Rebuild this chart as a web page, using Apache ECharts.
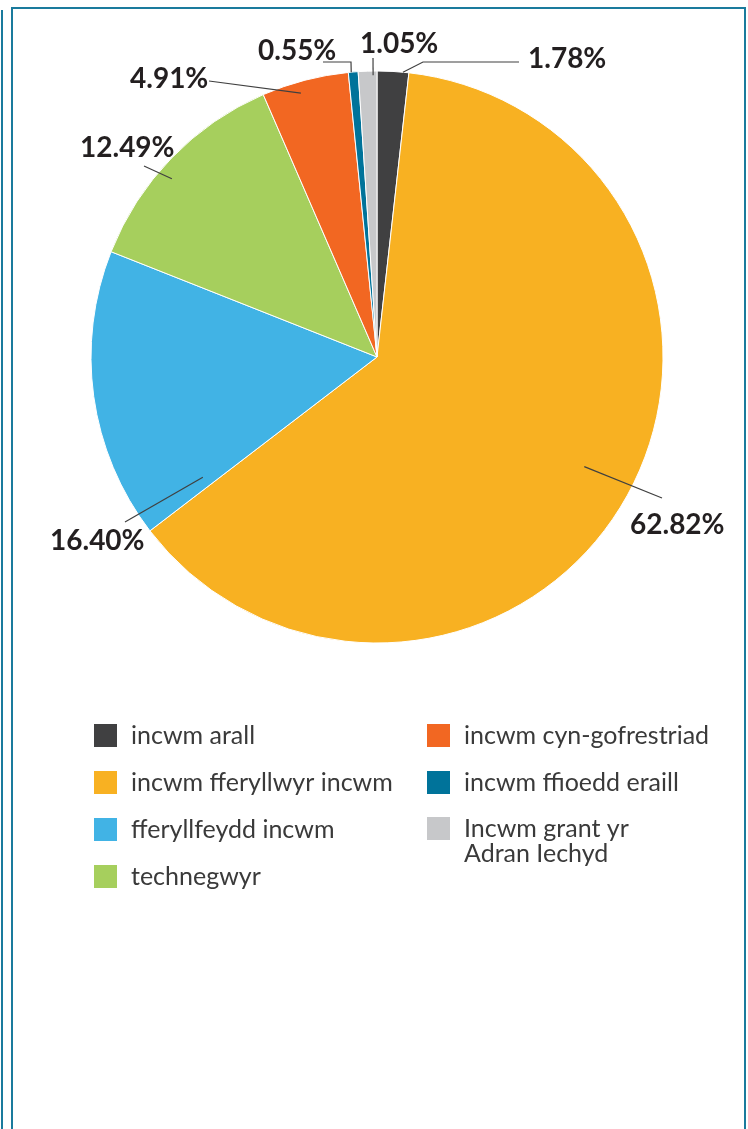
<!DOCTYPE html>
<html><head><meta charset="utf-8">
<script src="https://cdn.jsdelivr.net/npm/echarts@6/dist/echarts.min.js"></script>
<style>html,body{margin:0;padding:0;background:#fff}#c{width:748px;height:1129px}</style>
</head><body><div id="c"></div>
<script>
// ---- data ----
const categories = ['incwm arall', 'incwm fferyllwyr incwm', 'fferyllfeydd incwm', 'technegwyr',
  'incwm cyn-gofrestriad', 'incwm ffioedd eraill', 'Incwm grant yr Adran Iechyd'];
const shares = [1.78, 62.82, 16.40, 12.49, 4.91, 0.55, 1.05];
const legendLabels = ['incwm arall', 'incwm fferyllwyr incwm', 'fferyllfeydd incwm', 'technegwyr',
  'incwm cyn-gofrestriad', 'incwm ffioedd eraill', '\nIncwm grant yr\nAdran Iechyd'];

// ---- style ----
const colors = ['#404041', '#F8B122', '#41B3E5', '#A6CF5D', '#F26722', '#00739A', '#C7C8CA'];
const FRAME = '#1a7b9d';
const CX = 377, CY = 357, R = 286;
// label placement (text anchor, leader end, optional bend, start shift along slice)
const labelPlacement = [
  { x: 528, y: 59,  end: [519, 62], bend: [423, 62], dAng: 2.0,   rf: 1.0 },
  { x: 630, y: 525, end: [662, 498], dAng: -1.6,  rf: 0.82 },
  { x: 50,  y: 541, end: [125, 522], dAng: -26.7, rf: 0.74 },
  { x: 80,  y: 148, end: [144, 166], dAng: -3.1,  rf: 0.95 },
  { x: 130, y: 79,  end: [209, 81],  dAng: -1.5,  rf: 0.96 },
  { x: 258, y: 51,  end: [323, 62], bend: [351, 62], dAng: -0.4, rf: 1.0 },
  { x: 360, y: 44,  end: [373, 58],  dAng: 1.1,   rf: 0.985 }
];

const total = shares.reduce((a, b) => a + b, 0);
const midAngles = [];
let cum = 0;
shares.forEach(v => { midAngles.push((cum + v / 2) / total * 360); cum += v; });

// leader lines derived from slice angles
const leaderLines = labelPlacement.map((lp, i) => {
  const th = (midAngles[i] + lp.dAng) * Math.PI / 180;
  const r = R * lp.rf;
  const start = [CX + r * Math.sin(th), CY - r * Math.cos(th)];
  const pts = lp.bend ? [start, lp.bend, lp.end] : [start, lp.end];
  return { type: 'polyline', z: 100, shape: { points: pts }, style: { stroke: '#404040', lineWidth: 1.2, fill: null } };
});

const chart = echarts.init(document.getElementById('c'), null, { renderer: 'canvas' });
const nameToLabel = {};
categories.forEach((c, i) => nameToLabel[c] = legendLabels[i]);

const legendBase = {
  orient: 'vertical', itemWidth: 25, itemHeight: 25, itemGap: 20, icon: 'rect', selectedMode: false,
  padding: 0,
  formatter: n => nameToLabel[n],
  textStyle: { fontFamily: 'Lato', fontSize: 25, color: '#3a3a3a', lineHeight: 25, padding: [0, 0, 0, 8] }
};

chart.setOption({
  animation: false,
  backgroundColor: '#fff',
  color: colors,
  graphic: [
    { type: 'line', shape: { x1: 2, y1: 10, x2: 2, y2: 1129 }, style: { stroke: FRAME, lineWidth: 2 } },
    { type: 'polyline', shape: { points: [[12, 1129], [12, 8], [745, 8], [745, 1129]] },
      style: { stroke: FRAME, lineWidth: 2, fill: null } }
  ].concat(leaderLines),
  legend: [
    Object.assign({}, legendBase, { left: 92, top: 722, data: categories.slice(0, 4) }),
    Object.assign({}, legendBase, { left: 425, top: 722, data: categories.slice(4, 6) }),
    Object.assign({}, legendBase, { left: 425, top: 791, data: categories.slice(6) })
  ],
  series: [{
    type: 'pie',
    center: [CX, CY],
    radius: R,
    startAngle: 90,
    clockwise: true,
    silent: true,
    itemStyle: { borderColor: '#fff', borderWidth: 1 },
    data: categories.map((c, i) => ({ name: c, value: shares[i] })),
    label: {
      show: true, position: 'outside', overflow: 'none',
      formatter: p => shares[p.dataIndex].toFixed(2) + '%',
      fontFamily: 'Lato', fontWeight: 'bold', fontSize: 28, color: '#231f20'
    },
    labelLine: { show: false },
    labelLayout: function (params) {
      const lp = labelPlacement[params.dataIndex];
      return { x: lp.x, y: lp.y, align: 'left', verticalAlign: 'middle', width: 200 };
    }
  }]
});
</script></body></html>
